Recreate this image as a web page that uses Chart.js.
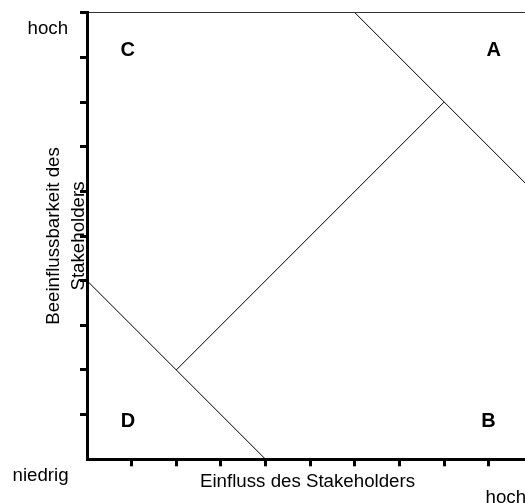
<!DOCTYPE html>
<html lang="de">
<head>
<meta charset="utf-8">
<title>Stakeholder-Matrix</title>
<script src="https://cdn.jsdelivr.net/npm/chart.js@4/dist/chart.umd.min.js"></script>
<style>
    html, body { margin: 0; padding: 0; background: #fff; overflow: hidden; }
    canvas { display: block; }
</style>
</head>
<body>
<canvas id="matrixChart" width="525" height="503"></canvas>
<script>
// ─── Daten ───
const upperX = [6, 10];
const upperY = [10, 6];
const lowerX = [0, 4];
const lowerY = [4, 0];
const diagX = [2, 8];
const diagY = [2, 8];

const quadrantNames = ['A', 'B', 'C', 'D'];
const quadrantX = [9.11, 8.99, 0.91, 0.92];
const quadrantY = [9.18, 0.86, 9.18, 0.86];

const xTitle = 'Einfluss des Stakeholders';
const yTitle = ['Beeinflussbarkeit des', 'Stakeholders'];
const lowLabel = 'niedrig';
const highLabel = 'hoch';

const FONT = "'Liberation Sans', Arial, Helvetica, sans-serif";

const toPoints = (xs, ys) => xs.map((v, i) => ({ x: v, y: ys[i] }));

const lineStyle = {
    borderColor: '#000',
    borderWidth: 1,
    pointRadius: 0,
    tension: 0,
    fill: false
};

// ─── Beschriftungen ───
const textPlugin = {
    id: 'matrixText',
    afterDraw(chart) {
        const { ctx, chartArea: a, scales: { x, y } } = chart;
        ctx.save();
        ctx.fillStyle = '#000';

        // Quadranten
        ctx.font = `bold 20px ${FONT}`;
        ctx.textAlign = 'center';
        ctx.textBaseline = 'middle';
        quadrantNames.forEach((n, i) => {
            ctx.fillText(n, x.getPixelForValue(quadrantX[i]), y.getPixelForValue(quadrantY[i]) + 1);
        });

        ctx.font = `18.7px ${FONT}`;
        ctx.textBaseline = 'alphabetic';
        ctx.textAlign = 'left';
        ctx.fillText(highLabel, a.left - 59.5, a.top + 21.3);
        ctx.fillText(lowLabel, a.left - 74.5, a.bottom + 21.7);
        ctx.fillText(highLabel, a.left + 398.5, a.bottom + 43.2);
        ctx.fillText(xTitle, a.left + 113, a.bottom + 27.2);

        // y-Achsentitel, gedreht
        const cy = (a.top + a.bottom) / 2;
        ctx.textAlign = 'center';
        [58.5, 83.5].forEach((bx, i) => {
            ctx.save();
            ctx.translate(bx, cy);
            ctx.rotate(-Math.PI / 2);
            ctx.fillText(yTitle[i], 0, 0);
            ctx.restore();
        });
        ctx.restore();
    }
};

document.addEventListener('DOMContentLoaded', () => {
    const ctx = document.getElementById('matrixChart').getContext('2d');
    Chart.defaults.font.family = FONT;

    new Chart(ctx, {
        type: 'line',
        data: {
            datasets: [
                { ...lineStyle, data: toPoints(upperX, upperY) },
                { ...lineStyle, data: toPoints(lowerX, lowerY) },
                { ...lineStyle, data: toPoints(diagX, diagY) }
            ]
        },
        options: {
            responsive: false,
            animation: false,
            events: [],
            layout: { padding: { left: 80, top: 12.7, right: 0, bottom: 36.7 } },
            plugins: {
                legend: { display: false },
                tooltip: { enabled: false }
            },
            scales: {
                x: {
                    type: 'linear',
                    min: 0,
                    max: 9.81,
                    ticks: { display: false, stepSize: 1, includeBounds: false },
                    grid: {
                        drawOnChartArea: false,
                        tickLength: 7,
                        tickWidth: 3,
                        tickColor: c => c.tick && c.tick.value === 0 ? 'transparent' : '#000'
                    },
                    border: { color: '#000', width: 3 }
                },
                y: {
                    type: 'linear',
                    min: 0,
                    max: 10,
                    ticks: { display: false, stepSize: 1 },
                    grid: {
                        drawOnChartArea: true,
                        color: c => c.tick && c.tick.value === 10 ? '#333' : 'transparent',
                        lineWidth: 1,
                        tickLength: 7,
                        tickWidth: 3,
                        tickColor: c => c.tick && c.tick.value === 0 ? 'transparent' : '#000'
                    },
                    border: { color: '#000', width: 3 }
                }
            }
        },
        plugins: [textPlugin]
    });
});
</script>
</body>
</html>
